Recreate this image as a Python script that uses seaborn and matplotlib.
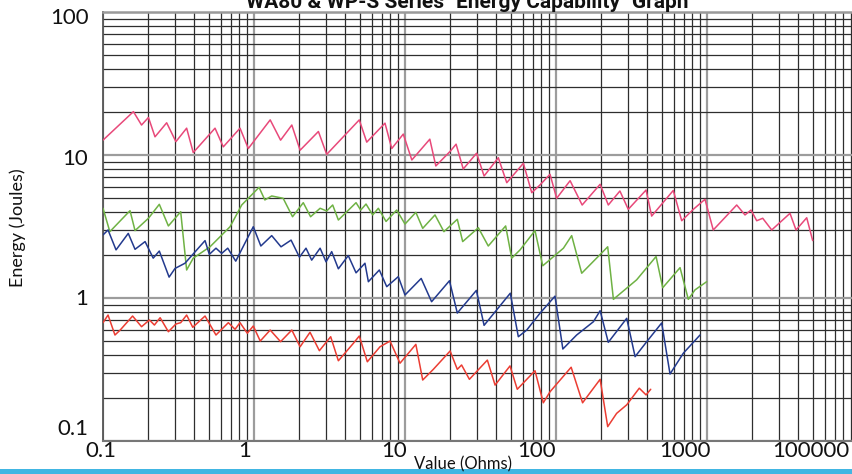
import numpy as np
import pandas as pd
import matplotlib
matplotlib.use("Agg")
import matplotlib.pyplot as plt
import matplotlib.transforms as mtransforms
from matplotlib.ticker import LogLocator, NullFormatter
from matplotlib.patches import Rectangle
import seaborn as sns

# ---------------- data ----------------
pink_x = [0.1, 0.159, 0.180, 0.200, 0.221, 0.264, 0.304, 0.358, 0.396, 0.552, 0.626, 0.808, 0.917,
          1.28, 1.50, 1.78, 2.02, 2.67, 3.03, 4.98, 5.58, 7.37, 8.17, 9.74, 11.1, 14.6, 16.0, 19.9,
          21.8, 24.3, 29.8, 33.4, 41.5, 47.2, 60.8, 69.1, 78.3, 91.3, 101, 124, 149, 196, 222, 265,
          301, 395, 430, 598, 680, 812, 970, 1100, 1573, 1785, 1956, 2134, 2339, 2683, 3545, 3886,
          4575, 5012]
pink_y = [12.7, 20.1, 16.2, 18.3, 13.4, 16.8, 12.4, 15.4, 10.4, 15.4, 11.4, 15.4, 11.1,
          17.6, 12.7, 16.2, 10.8, 14.6, 10.1, 17.6, 12.3, 16.7, 11.1, 14.0, 9.23, 12.9, 8.38, 10.6,
          11.9, 7.98, 10.3, 7.13, 9.57, 6.40, 8.75, 5.45, 6.17, 7.33, 4.98, 6.61, 4.47, 6.24, 4.47, 5.60,
          4.17, 5.69, 3.74, 5.65, 3.47, 4.17, 4.90, 2.99, 4.47, 3.81, 4.12, 3.47, 3.61, 2.99, 3.91, 2.99,
          3.64, 2.52]

green_x = [0.1, 0.111, 0.151, 0.163, 0.2, 0.236, 0.271, 0.327, 0.358, 0.396, 0.511, 0.694, 0.829,
           1.08, 1.18, 1.31, 1.56, 1.80, 2.12, 2.37, 2.74, 3.03, 3.32, 3.62, 4.74, 5.09, 5.52, 6.11,
           6.66, 7.49, 8.81, 10.0, 11.8, 13.1, 15.8, 18.1, 22.2, 24.1, 30.6, 35.6, 46.4, 50.9, 57.8,
           72.6, 81.7, 112, 127, 148, 220, 240, 342, 460, 509, 663, 752, 833, 995]
green_y = [4.24, 2.91, 4.08, 2.96, 3.61, 4.52, 3.19, 4.01, 1.57, 1.90, 2.28, 3.15, 4.47,
           5.94, 4.85, 5.17, 4.98, 3.70, 4.64, 3.70, 4.24, 4.06, 4.47, 3.51, 4.64, 4.12, 4.54, 3.81,
           4.24, 3.43, 4.12, 3.29, 3.97, 3.07, 3.81, 2.91, 3.55, 2.48, 3.10, 2.31, 3.19, 1.90, 2.17,
           2.96, 1.68, 2.23, 2.73, 1.49, 2.28, 0.979, 1.34, 1.95, 1.18, 1.63, 0.979, 1.14, 1.30]

blue_x = [0.1, 0.108, 0.122, 0.147, 0.163, 0.190, 0.215, 0.236, 0.274, 0.300, 0.349, 0.474, 0.506,
          0.560, 0.611, 0.670, 0.757, 0.989, 1.11, 1.31, 1.51, 1.76, 2.00, 2.21, 2.41, 2.74, 3.00,
          3.27, 3.62, 4.21, 4.74, 5.43, 5.72, 6.76, 7.57, 9.03, 10.0, 12.8, 15.0, 19.7, 22.2, 29.7,
          33.4, 49.8, 56.3, 64.0, 78.3, 98.5, 111, 137, 177, 196, 222, 294, 334, 399, 501, 569, 697, 899]
blue_y = [2.76, 2.99, 2.17, 2.83, 2.19, 2.48, 1.90, 2.13, 1.40, 1.61, 1.75, 2.52, 2.02,
          2.23, 2.05, 2.23, 1.81, 3.15, 2.31, 2.73, 2.28, 2.54, 1.93, 2.23, 1.84, 2.23, 1.79,
          2.11, 1.60, 1.98, 1.50, 1.75, 1.30, 1.57, 1.20, 1.41, 1.05, 1.37, 0.942, 1.32, 0.785, 1.13,
          0.644, 1.08, 0.536, 0.597, 0.782, 1.03, 0.440, 0.551, 0.683, 0.815, 0.490, 0.721, 0.389,
          0.495, 0.669, 0.294, 0.411, 0.551]

red_x = [0.1, 0.108, 0.120, 0.130, 0.157, 0.180, 0.203, 0.219, 0.239, 0.271, 0.304, 0.327, 0.358,
         0.393, 0.474, 0.560, 0.676, 0.749, 0.808, 0.903, 0.989, 1.10, 1.28, 1.50, 1.78, 2.02, 2.35,
         2.71, 3.22, 3.62, 4.55, 4.98, 5.63, 6.83, 7.96, 9.27, 11.8, 13.1, 15.4, 19.9, 22.2, 23.7,
         26.7, 35.1, 39.5, 49.6, 55.4, 72.6, 82.4, 91.3, 126, 150, 164, 196, 220, 252, 294, 356, 395, 424]
red_y = [0.672, 0.760, 0.551, 0.597, 0.748, 0.630, 0.702, 0.647, 0.728, 0.581, 0.658, 0.672, 0.760,
         0.624, 0.748, 0.551, 0.672, 0.604, 0.672, 0.567, 0.637, 0.500, 0.597, 0.495, 0.597, 0.456, 0.576,
         0.428, 0.536, 0.364, 0.482, 0.542, 0.358, 0.456, 0.500, 0.350, 0.474, 0.267, 0.317, 0.426, 0.317,
         0.340, 0.270, 0.368, 0.246, 0.335, 0.230, 0.310, 0.185, 0.221, 0.328, 0.185, 0.210, 0.270, 0.126,
         0.156, 0.179, 0.234, 0.210, 0.230]

series_names = ["S1", "S2", "S3", "S4"]
series_colors = ["#E8497A", "#6FB244", "#233A8E", "#EB3D33"]

xtick_vals = [0.1, 1, 10, 100, 1000, 10000]
xtick_labels = ["0.1", "1", "10", "100", "1000", "100000"]
ytick_vals = [0.1, 1, 10, 100]
ytick_labels = ["0.1", "1", "10", "100"]

title = 'WA80 & WP-S Series "Energy Capability" Graph'
xlabel = "Value (Ohms)"
ylabel = "Energy (Joules)"

# ---------------- figure ----------------
sns.set_theme(style="white")
plt.rcParams['font.family'] = ['Lato', 'DejaVu Sans']

W, H = 853, 474
fig = plt.figure(figsize=(W / 100, H / 100), dpi=100)
ax = fig.add_axes([103 / W, 1 - 441 / H, (858 - 103) / W, (441 - 12) / H])
ax.set_xscale("log")
ax.set_yscale("log")

frames = []
for name, xs, ys in zip(series_names, [pink_x, green_x, blue_x, red_x],
                        [pink_y, green_y, blue_y, red_y]):
    frames.append(pd.DataFrame({"Value": xs, "Energy": ys, "Series": name}))
df = pd.concat(frames, ignore_index=True)

sns.lineplot(data=df, x="Value", y="Energy", hue="Series", hue_order=series_names,
             palette=dict(zip(series_names, series_colors)), estimator=None, sort=False,
             linewidth=1.1, legend=False, ax=ax, zorder=5,
             solid_joinstyle="round", solid_capstyle="round")

ax.set_xlim(0.1, 10000)
ax.set_ylim(0.1, 100)

ax.xaxis.set_minor_locator(LogLocator(base=10, subs=np.arange(2, 10), numticks=100))
ax.yaxis.set_minor_locator(LogLocator(base=10, subs=np.arange(2, 10), numticks=100))
ax.xaxis.set_minor_formatter(NullFormatter())
ax.yaxis.set_minor_formatter(NullFormatter())

ax.grid(True, which="minor", color="#2e2e2e", linewidth=0.9)
ax.grid(True, which="major", color="#9c9c9c", linewidth=1.6)
ax.set_axisbelow(True)

ax.set_xticks(xtick_vals, xtick_labels)
ax.set_yticks(ytick_vals, ytick_labels)
ax.tick_params(axis="both", which="both", length=0)
ax.tick_params(axis="x", pad=0, labelsize=16, labelcolor="#111111")
ax.tick_params(axis="y", pad=10.5, labelsize=16, labelcolor="#111111")
ax.set_xlabel("")
ax.set_ylabel("")

# shift tick labels where the reference draws them
x_shift_px = [-2, -9, -11, -19, -22, -47]
for lab, dx in zip(ax.get_xticklabels(), x_shift_px):
    lab.set_transform(lab.get_transform() + mtransforms.ScaledTranslation(dx / 100, 0, fig.dpi_scale_trans))
y_shift_px = [14, 1, -2, -4]
for lab, dy in zip(ax.get_yticklabels(), y_shift_px):
    lab.set_transform(lab.get_transform() + mtransforms.ScaledTranslation(0, dy / 100, fig.dpi_scale_trans))

for side, col, lw in [("left", "#555555", 1.3), ("bottom", "#777777", 1.5),
                      ("top", "#9a9a9a", 1.8), ("right", "#9a9a9a", 1.5)]:
    ax.spines[side].set_color(col)
    ax.spines[side].set_linewidth(lw)
    ax.spines[side].set_visible(True)

# texts
fig.text(467 / W, 1 - 8 / H, title, ha="center", va="baseline", fontsize=15,
         fontweight="bold", family=["Liberation Sans Narrow", "Roboto", "DejaVu Sans"], color="#111111")
fig.text(463 / W, 1 - 464 / H, xlabel, ha="center", va="center", fontsize=12, color="#111111", zorder=10)
fig.text(18 / W, 1 - 228 / H, ylabel, ha="center", va="center", rotation=90, fontsize=13, color="#111111")

# blue band at the bottom
fig.patches.append(Rectangle((0, 0), 1, 5.5 / H, transform=fig.transFigure,
                             facecolor="#41B6E3", edgecolor="none", zorder=1))

fig.savefig("out.png", dpi=100)
